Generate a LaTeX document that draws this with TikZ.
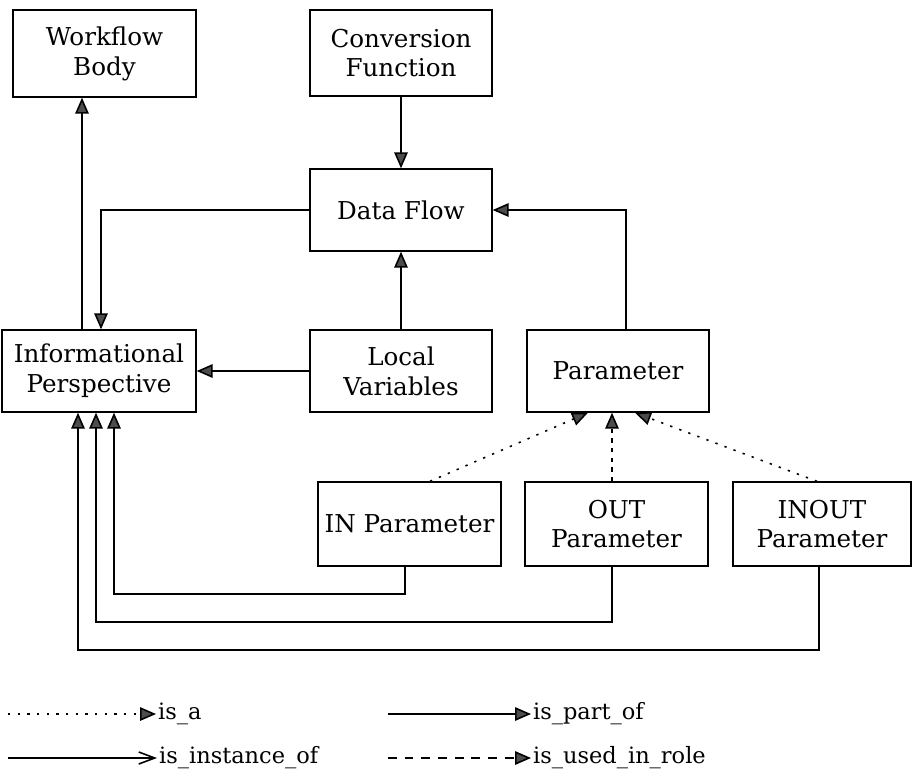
\documentclass[tikz,border=0pt]{standalone}
\usepackage{fontspec}
\setmainfont{DejaVu Serif}
\usetikzlibrary{arrows.meta}

\begin{document}
\begin{tikzpicture}[x=0.02cm,y=-0.02cm,
	>={Triangle[length=3.2mm,width=2.7mm,fill=black!70]},
	caixa/.style={draw,line width=0.8pt,align=center,inner sep=0pt,
		minimum width=3.64cm,minimum height=1.64cm,
		font=\fontsize{14}{17}\selectfont},
	legenda/.style={anchor=west,inner sep=1pt,font=\fontsize{12.8}{15}\selectfont},
	liga/.style={line width=0.9pt},
	isa/.style={liga,dash pattern=on 1.3pt off 4.2pt},
	papel/.style={liga,dash pattern=on 5pt off 4.5pt}]
	
	% margens
	\useasboundingbox (0,0) rectangle (915,771);
	
	% caixas
	\node[caixa,minimum width=3.66cm,minimum height=1.74cm] (wb) at (104.5,53.5) {Workflow\\Body};
	\node[caixa,minimum height=1.72cm] (cf) at (401,53) {Conversion\\Function};
	\node[caixa] (df) at (401,210) {Data Flow};
	\node[caixa,minimum width=3.88cm] (ip) at (99,371) {Informational\\Perspective};
	\node[caixa] (lv) at (401,371) {Local\\Variables};
	\node[caixa] (par) at (618,371) {Parameter};
	\node[caixa,minimum width=3.66cm,minimum height=1.68cm] (inp) at (409.5,524) {IN Parameter};
	\node[caixa,minimum width=3.66cm,minimum height=1.68cm] (outp) at (616.5,524) {OUT\\Parameter};
	\node[caixa,minimum width=3.56cm,minimum height=1.68cm] (inoutp) at (822,524) {INOUT\\Parameter};
	
	% pontos auxiliares (so as abscissas)
	\coordinate (xwb) at (82,0);
	\coordinate (xdf) at (101,0);
	\coordinate (xpar) at (626,0);
	\coordinate (xout) at (612,0);
	\coordinate (a1) at (430,0);
	\coordinate (a2) at (588,0);
	\coordinate (a3) at (817,0);
	\coordinate (a4) at (635,0);
	\coordinate (c1) at (405,0);
	\coordinate (c2) at (612,0);
	\coordinate (c3) at (819,0);
	\coordinate (b1) at (114,594);
	\coordinate (b2) at (96,622);
	\coordinate (b3) at (78,650);
	
	% ligacoes de cima
	\draw[liga,->] (ip.north -| xwb) -- (wb.south -| xwb);
	\draw[liga,->] (cf.south) -- (df.north);
	\draw[liga,->] (df.west) -| (ip.north -| xdf);
	\draw[liga,->] (lv.north) -- (df.south);
	\draw[liga,->] (lv.west) -- (ip.east);
	\draw[liga,->] (par.north -| xpar) |- (df.east);
	
	% tipos de parametro
	\draw[isa,->] (inp.north -| a1) -- (par.south -| a2);
	\draw[papel,dash pattern=on 2.5pt off 3pt,->] (outp.north -| xout) -- (par.south -| xout);
	\draw[isa,->] (inoutp.north -| a3) -- (par.south -| a4);
	
	% ligacoes de baixo
	\draw[liga,->] (inp.south -| c1) |- (b1) -- (ip.south -| b1);
	\draw[liga,->] (outp.south -| c2) |- (b2) -- (ip.south -| b2);
	\draw[liga,->] (inoutp.south -| c3) |- (b3) -- (ip.south -| b3);
	
	% legenda
	\coordinate (l1) at (8,714);
	\coordinate (l2) at (388,714);
	\coordinate (l3) at (8,758);
	\coordinate (l4) at (388,758);
	\node[legenda] (isa) at (156,714) {is\_a};
	\node[legenda] (partof) at (531,714) {is\_part\_of};
	\node[legenda] (inst) at (157,758) {is\_instance\_of};
	\node[legenda] (role) at (531,758) {is\_used\_in\_role};
	\draw[isa,->] (l1) -- (isa.west);
	\draw[liga,->] (l2) -- (partof.west);
	\draw[liga,-{Straight Barb[length=3.2mm,width=2.4mm]}] (l3) -- (inst.west);
	\draw[papel,->] (l4) -- (role.west);
	
\end{tikzpicture}
\end{document}
